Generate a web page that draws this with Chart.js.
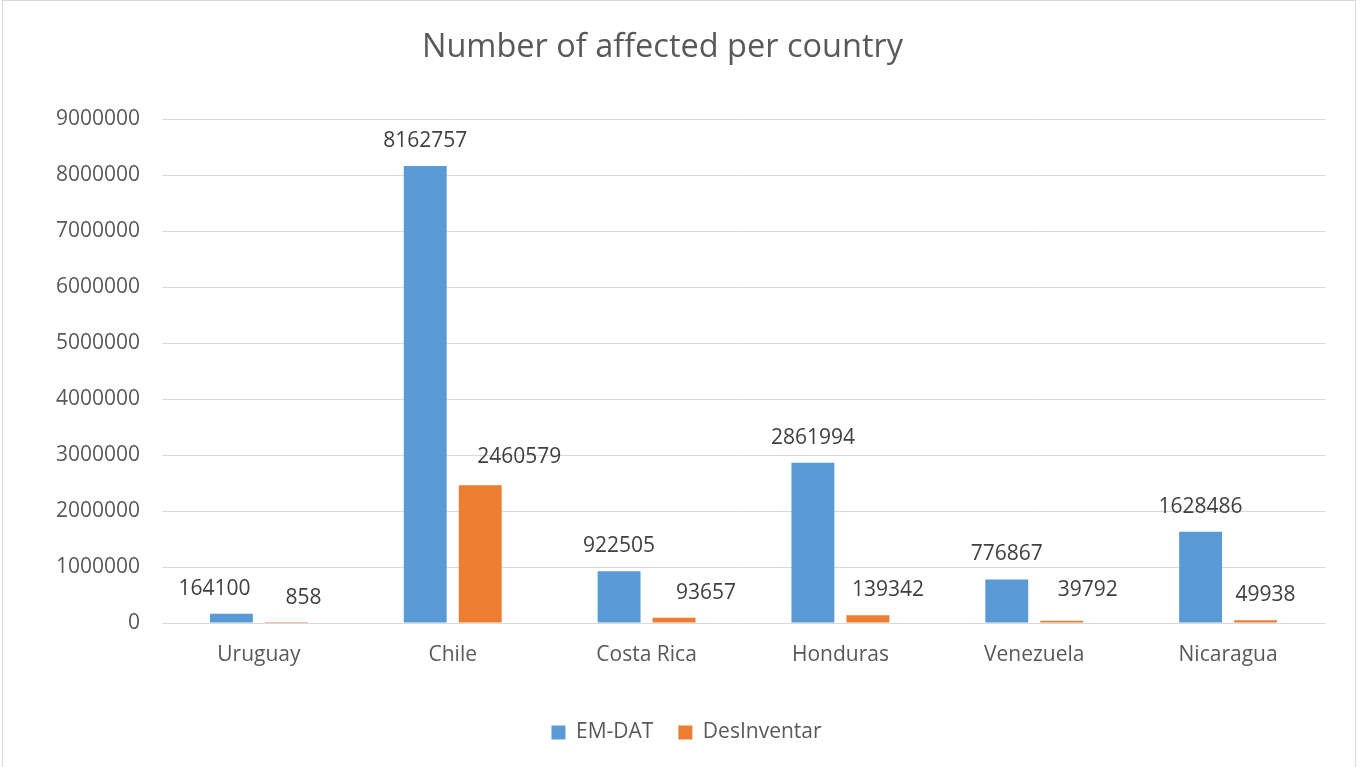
<!DOCTYPE html>
<html>
<head>
<meta charset="utf-8">
<script src="https://cdn.jsdelivr.net/npm/chart.js@4.4.1/dist/chart.umd.min.js"></script>
<style>
  html, body { margin: 0; padding: 0; background: #fff; }
  #wrap { width: 1360px; height: 767px; position: relative; }
</style>
</head>
<body>
<div id="wrap"><canvas id="chart" width="1360" height="767"></canvas></div>
<script>
const countries = ['Uruguay', 'Chile', 'Costa Rica', 'Honduras', 'Venezuela', 'Nicaragua'];
const emdatAffected = [164100, 8162757, 922505, 2861994, 776867, 1628486];
const desinventarAffected = [858, 2460579, 93657, 139342, 39792, 49938];
const yTickMax = 9000000;
const yTickStep = 1000000;

// hand-nudged value labels [dx, dy] so they don't collide
const labelNudges = [
    [[-17, 0], [0, 0], [0, 0], [0, 0], [0, 0], [0, 0]],
    [[17, 0], [39, -3], [32, 0], [20, 0], [26, -6], [10, 0]]
];

const FONT = "'Open Sans', 'Noto Sans', sans-serif";
const TEXT = '#595959';
const GRID = '#d9d9d9';

// white background plus the thin frame round the chart
const framePlugin = {
    id: 'frame',
    beforeDraw(chart) {
        const c = chart.ctx;
        c.save();
        c.fillStyle = '#fff';
        c.fillRect(0, 0, chart.width, chart.height);
        c.strokeStyle = GRID;
        c.lineWidth = 1;
        c.strokeRect(2.5, 0.5, chart.width - 7, chart.height + 10);
        c.restore();
    }
};

// centre the legend on the whole canvas rather than the padded box
const legendShift = {
    id: 'legendShift',
    afterLayout(chart) {
        chart.legend.left += 24;
        chart.legend.right += 24;
    }
};

// value labels above each bar
const valueLabels = {
    id: 'valueLabels',
    afterDatasetsDraw(chart) {
        const c = chart.ctx;
        c.save();
        c.font = '21px ' + FONT;
        c.fillStyle = '#404040';
        c.textAlign = 'center';
        c.textBaseline = 'middle';
        chart.data.datasets.forEach((ds, di) => {
            chart.getDatasetMeta(di).data.forEach((bar, i) => {
                const [dx, dy] = labelNudges[di][i];
                c.fillText(String(ds.data[i]), bar.x + dx, bar.y - 25 + dy);
            });
        });
        c.restore();
    }
};

new Chart(document.getElementById('chart'), {
    type: 'bar',
    data: {
        labels: countries,
        datasets: [
            {
                label: 'EM-DAT',
                data: emdatAffected,
                backgroundColor: '#5b9bd5'
            },
            {
                label: 'DesInventar',
                data: desinventarAffected,
                backgroundColor: '#ed7d31'
            }
        ]
    },
    options: {
        responsive: false,
        animation: false,
        categoryPercentage: 0.5675,
        barPercentage: 0.78,
        layout: { padding: { top: 0, left: 0, right: 35, bottom: 14 } },
        scales: {
            x: {
                grid: { display: false },
                border: { display: false },
                ticks: {
                    color: TEXT,
                    font: { family: FONT, size: 21 },
                    padding: 11,
                    maxRotation: 0
                },
                afterFit: scale => { scale.height = 74; }
            },
            y: {
                min: 0,
                max: yTickMax,
                grid: { color: GRID, lineWidth: 1, drawTicks: false },
                border: { display: false },
                ticks: {
                    stepSize: yTickStep,
                    color: TEXT,
                    font: { family: FONT, size: 21 },
                    padding: 22,
                    callback: v => String(v)
                },
                afterFit: scale => { scale.width = 162; }
            }
        },
        plugins: {
            tooltip: { enabled: false },
            title: {
                display: true,
                text: 'Number of affected per country',
                color: TEXT,
                font: { family: FONT, size: 32.5, weight: 'normal' },
                padding: { top: 28, bottom: 52 }
            },
            legend: {
                position: 'bottom',
                labels: {
                    color: TEXT,
                    font: { family: FONT, size: 21 },
                    boxWidth: 14,
                    boxHeight: 14,
                    padding: 25
                }
            }
        }
    },
    plugins: [framePlugin, legendShift, valueLabels]
});
</script>
</body>
</html>
